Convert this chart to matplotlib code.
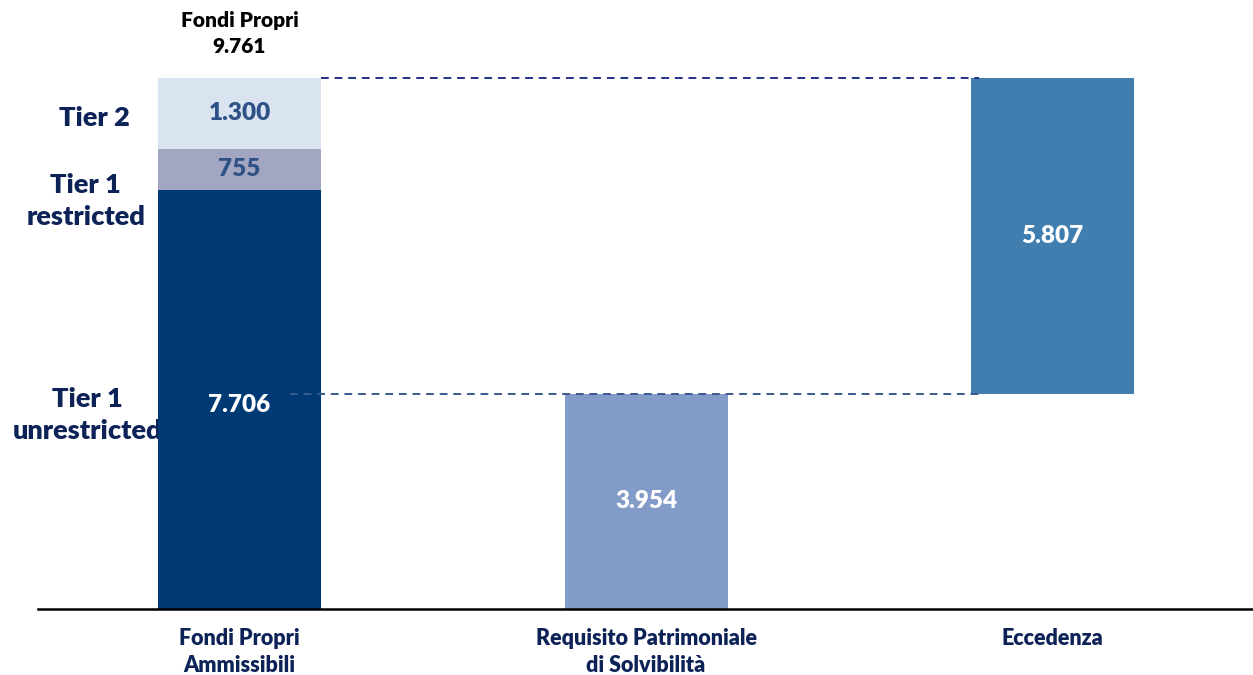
import matplotlib
matplotlib.use('Agg')
import matplotlib.pyplot as plt

plt.rcParams['font.family'] = ['Lato', 'DejaVu Sans']

# data
categories = ['Fondi Propri\nAmmissibili', 'Requisito Patrimoniale\ndi Solvibilità', 'Eccedenza']
tier1_unrestricted = 7706
tier1_restricted = 755
tier2 = 1300
fondi_propri = 9761
requisito = 3954
eccedenza = 5807
tier_labels = ['Tier 1\nunrestricted', 'Tier 1\nrestricted', 'Tier 2']
value_labels = ['7.706', '755', '1.300', '3.954', '5.807']

navy = '#0D2357'
c_t1u = '#003A75'
c_t1r = '#A3A6C2'
c_t2 = '#DAE3F0'
c_req = '#839BC9'
c_ecc = '#407EAF'
c_val = '#2F5286'

fig = plt.figure(figsize=(12.53, 6.75), dpi=100)
ax = fig.add_axes([38/1253, 66/675, 1215/1253, 531/675])
ax.set_xlim(-0.4957, 2.493)
ax.set_ylim(0, fondi_propri)

w = 0.401
x = [0, 1, 2]

# stacked bar
ax.bar(x[0], tier1_unrestricted, w, color=c_t1u, zorder=2)
ax.bar(x[0], tier1_restricted, w, bottom=tier1_unrestricted, color=c_t1r, zorder=2)
ax.bar(x[0], tier2, w, bottom=tier1_unrestricted + tier1_restricted, color=c_t2, zorder=2)
ax.bar(x[1], requisito, w, color=c_req, zorder=2)
ax.bar(x[2], eccedenza, w, bottom=requisito, color=c_ecc, zorder=2)

# dashed connectors
ax.plot([x[0] + w/2, x[2] - w/2 + 0.02], [fondi_propri, fondi_propri],
        ls=(0, (4, 3)), color='#23308A', lw=1.4, zorder=3, clip_on=False)
ax.plot([x[0] + 0.124, x[2] - w/2 + 0.02], [requisito, requisito],
        ls=(0, (4, 3)), color='#3A5A8C', lw=1.4, zorder=3)

bold = dict(fontweight='heavy', fontsize=17.5, ha='center', va='center', zorder=4)

# value labels
ax.text(x[0], 3750, value_labels[0], color='white', **bold)
ax.text(x[0], tier1_unrestricted + tier1_restricted/2, value_labels[1], color=c_val, **bold)
ax.text(x[0], tier1_unrestricted + tier1_restricted + tier2/2, value_labels[2], color=c_val, **bold)
ax.text(x[1], requisito/2, value_labels[3], color='white', **bold)
ax.text(x[2], requisito + eccedenza/2, value_labels[4], color='white', **bold)

# total on top
ax.text(x[0], fondi_propri + 400, 'Fondi Propri\n9.761', ha='center', va='bottom',
        color='black', fontsize=15, fontweight='heavy', linespacing=1.45, clip_on=False)

# tier labels on the left
lab = dict(ha='center', va='center', color=navy, fontsize=19.5, fontweight='heavy',
           linespacing=1.4, zorder=1)
ax.text(-0.375, 3570, tier_labels[0], **lab)
ax.text(-0.378, 7500, tier_labels[1], **lab)
ax.text(-0.358, 9030, tier_labels[2], **lab)

# axes style
for s in ['top', 'right', 'left']:
    ax.spines[s].set_visible(False)
ax.spines['bottom'].set_linewidth(1.8)
ax.spines['bottom'].set_color('black')
ax.set_yticks([])
ax.set_xticks(x)
ax.set_xticklabels(categories, fontsize=15.5, fontweight='heavy', color=navy, linespacing=1.35)
ax.tick_params(axis='x', length=0, pad=14)

fig.savefig('out.png', dpi=100)
